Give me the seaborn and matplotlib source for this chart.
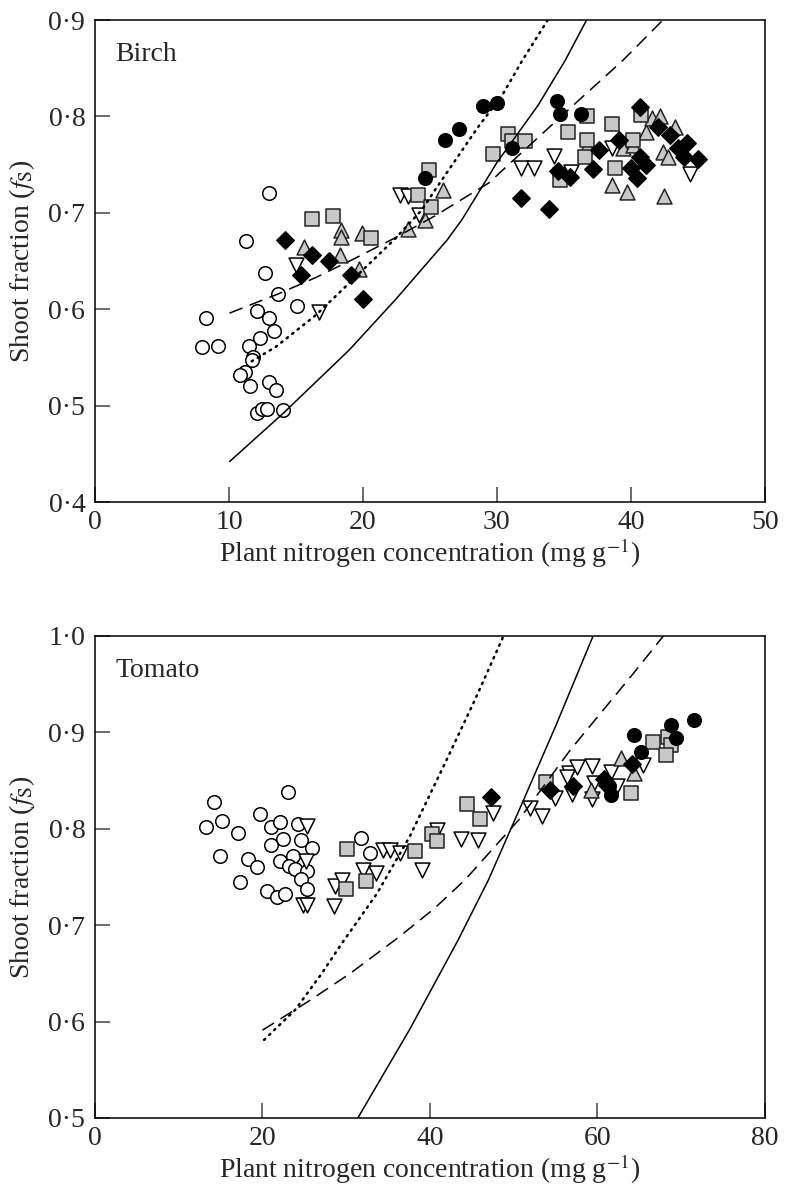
import numpy as np
import pandas as pd
import matplotlib
matplotlib.use("Agg")
import matplotlib.pyplot as plt
import seaborn as sns

# ---------------- Birch (top panel) ----------------
birch_open_circle_x = [13.0, 11.3, 12.7, 13.7, 15.1, 8.3, 12.1, 13.0, 13.4, 12.3, 8.0, 9.2, 11.5,
                       11.8, 11.7, 11.2, 10.8, 11.6, 13.0, 13.5, 12.1, 12.5, 12.85, 14.0]
birch_open_circle_y = [0.721, 0.671, 0.638, 0.616, 0.603, 0.591, 0.598, 0.591, 0.577, 0.570, 0.561, 0.562, 0.562,
                       0.550, 0.547, 0.535, 0.532, 0.520, 0.524, 0.516, 0.492, 0.496, 0.496, 0.495]

birch_black_circle_x = [24.6, 26.1, 27.2, 29.0, 30.0, 31.1, 34.5, 34.7, 36.25]
birch_black_circle_y = [0.736, 0.776, 0.787, 0.811, 0.814, 0.767, 0.816, 0.803, 0.802]

birch_square_x = [16.2, 17.8, 20.6, 24.1, 24.9, 25.1, 29.7, 30.8, 31.1, 32.1, 35.3, 36.7, 38.6,
                  36.7, 36.55, 34.7, 38.8, 40.2, 40.8]
birch_square_y = [0.694, 0.697, 0.674, 0.719, 0.744, 0.706, 0.761, 0.782, 0.774, 0.775, 0.784, 0.800, 0.792,
                  0.776, 0.758, 0.734, 0.747, 0.776, 0.801]

birch_diamond_x = [14.2, 16.2, 17.5, 15.4, 19.1, 20.0, 31.8, 33.9, 34.6, 35.45, 37.2, 37.6, 39.1,
                   40.0, 40.5, 40.7, 41.1, 40.7, 42.0, 42.9, 43.5, 44.2, 44.0, 45.0]
birch_diamond_y = [0.672, 0.656, 0.650, 0.635, 0.635, 0.611, 0.715, 0.704, 0.743, 0.737, 0.745, 0.765, 0.776,
                   0.746, 0.736, 0.758, 0.750, 0.810, 0.789, 0.781, 0.767, 0.772, 0.758, 0.756]

birch_tri_up_x = [15.6, 18.4, 18.4, 19.9, 18.3, 19.7, 23.4, 24.6, 26.0, 36.75, 38.6, 39.7, 39.4,
                  41.1, 41.6, 42.2, 43.3, 42.4, 42.8, 42.5, 40.2]
birch_tri_up_y = [0.665, 0.682, 0.675, 0.679, 0.656, 0.642, 0.683, 0.693, 0.724, 0.769, 0.729, 0.722, 0.767,
                  0.784, 0.798, 0.800, 0.789, 0.763, 0.758, 0.717, 0.770]

birch_tri_down_x = [15.0, 16.7, 22.8, 23.4, 24.2, 31.8, 32.8, 34.3, 34.75, 35.5, 38.6, 44.4]
birch_tri_down_y = [0.646, 0.597, 0.718, 0.717, 0.698, 0.746, 0.746, 0.759, 0.739, 0.742, 0.767, 0.740]

birch_solid_x = [10.05, 14.05, 19.0, 22.5, 26.3, 27.4, 30.0, 33.1, 35.1, 36.7]
birch_solid_y = [0.442, 0.492, 0.558, 0.611, 0.672, 0.693, 0.752, 0.812, 0.858, 0.900]
birch_dash_x = [10.05, 13.7, 16.5, 19.3, 22.4, 25.4, 29.4, 32.6, 35.9, 39.4, 42.4]
birch_dash_y = [0.596, 0.616, 0.633, 0.652, 0.674, 0.697, 0.731, 0.772, 0.814, 0.858, 0.900]
birch_dot_x = [11.7, 13.5, 16.5, 19.2, 22.4, 24.4, 25.4, 28.6, 30.4, 31.9, 33.8]
birch_dot_y = [0.546, 0.561, 0.594, 0.630, 0.673, 0.703, 0.724, 0.789, 0.822, 0.858, 0.900]

birch_xticks = [0, 10, 20, 30, 40, 50]
birch_yticks = [0.4, 0.5, 0.6, 0.7, 0.8, 0.9]

# ---------------- Tomato (bottom panel) ----------------
tomato_open_circle_x = [14.2, 23.1, 13.3, 15.2, 17.1, 19.7, 21.0, 22.1, 24.3, 22.5, 21.0, 24.6, 25.9, 14.9,
                        18.3, 19.3, 22.1, 23.7, 23.2, 23.9, 25.3, 24.6, 17.3, 20.6, 21.7, 22.7, 25.3, 31.8, 32.9]
tomato_open_circle_y = [0.828, 0.838, 0.802, 0.808, 0.796, 0.815, 0.802, 0.807, 0.805, 0.789, 0.783, 0.788, 0.780, 0.772,
                        0.769, 0.760, 0.767, 0.772, 0.761, 0.758, 0.756, 0.748, 0.745, 0.735, 0.729, 0.732, 0.737, 0.790, 0.775]

tomato_black_circle_x = [71.6, 68.8, 69.4, 64.4, 65.2, 61.6, 61.4]
tomato_black_circle_y = [0.913, 0.908, 0.894, 0.897, 0.880, 0.835, 0.844]

tomato_square_x = [30.1, 30.0, 32.4, 38.2, 40.2, 40.9, 44.4, 46.0, 53.9, 64.0, 66.6, 68.4, 68.8, 68.2]
tomato_square_y = [0.779, 0.738, 0.746, 0.777, 0.795, 0.787, 0.826, 0.810, 0.849, 0.837, 0.890, 0.895, 0.887, 0.877]

tomato_diamond_x = [47.3, 54.3, 57.1, 60.8, 61.2, 64.2]
tomato_diamond_y = [0.833, 0.840, 0.844, 0.852, 0.845, 0.867]

tomato_tri_up_x = [59.2, 62.8, 64.4]
tomato_tri_up_y = [0.840, 0.873, 0.858]

tomato_tri_down_x = [25.3, 25.2, 24.9, 25.3, 28.7, 29.5, 28.6, 32.0, 33.6, 34.4, 35.2, 36.4, 39.1, 40.8,
                     47.5, 43.7, 45.8, 52.0, 53.4, 55.0, 56.6, 57.6, 59.4, 56.4, 57.0, 59.4, 59.6, 61.6, 62.4, 65.4]
tomato_tri_down_y = [0.803, 0.767, 0.721, 0.721, 0.741, 0.747, 0.720, 0.757, 0.754, 0.778, 0.778, 0.775, 0.757, 0.799,
                     0.816, 0.789, 0.788, 0.822, 0.813, 0.832, 0.858, 0.864, 0.865, 0.854, 0.836, 0.831, 0.847, 0.859, 0.844, 0.866]

tomato_solid_x = [31.4, 37.6, 43.4, 47.0, 51.0, 55.0, 59.5]
tomato_solid_y = [0.500, 0.592, 0.685, 0.747, 0.826, 0.906, 1.000]
tomato_dash_x = [20.0, 25.5, 30.5, 36.2, 40.5, 44.2, 50.6, 56.8, 64.3, 67.9]
tomato_dash_y = [0.591, 0.621, 0.650, 0.687, 0.717, 0.747, 0.809, 0.882, 0.961, 1.000]
tomato_dot_x = [20.2, 23.9, 27.1, 29.4, 33.7, 37.6, 41.7, 45.4, 48.8]
tomato_dot_y = [0.581, 0.612, 0.650, 0.680, 0.733, 0.792, 0.866, 0.934, 1.000]

tomato_xticks = [0, 20, 40, 60, 80]
tomato_yticks = [0.5, 0.6, 0.7, 0.8, 0.9, 1.0]

# ---------------- style ----------------
sns.set_style("ticks")
plt.rcParams['font.family'] = ['Liberation Serif', 'DejaVu Serif']
plt.rcParams['mathtext.fontset'] = 'stix'

GRAY = '#c8c8c8'
FS = 20

fig = plt.figure(figsize=(7.87, 11.99), dpi=100)
ax1 = fig.add_axes([0.1207, 0.5813, 0.851, 0.402])
ax2 = fig.add_axes([0.1207, 0.0676, 0.851, 0.402])


def draw_group(ax, x, y, marker, face, edge, s):
    sns.scatterplot(x=x, y=y, ax=ax, marker=marker, color=face, edgecolor=edge,
                    linewidth=1.1, s=s, zorder=3, legend=False)


def draw_curves(ax, sx, sy, dx, dy, px, py):
    sns.lineplot(x=sx, y=sy, ax=ax, color='black', lw=1.1, sort=False, estimator=None, zorder=4)
    sns.lineplot(x=dx, y=dy, ax=ax, color='black', lw=1.1, sort=False, estimator=None,
                 linestyle=(0, (9, 5)), zorder=4)
    sns.lineplot(x=px, y=py, ax=ax, color='black', lw=1.8, sort=False, estimator=None,
                 linestyle=(0, (0.6, 2.2)), dash_capstyle='round', zorder=4)


def finish(ax, xticks, yticks, xlim, ylim, name):
    ax.set_xlim(*xlim)
    ax.set_ylim(*ylim)
    ax.set_xticks(xticks)
    ax.set_xticklabels([str(t) for t in xticks])
    ax.set_yticks(yticks)
    ax.set_yticklabels([f"{t:.1f}".replace('.', '·') for t in yticks])
    ax.tick_params(direction='in', length=11, width=1.1, labelsize=FS, color='#444444')
    ax.tick_params(axis='x', pad=6)
    ax.tick_params(axis='y', pad=7)
    for sp in ax.spines.values():
        sp.set_visible(True)
        sp.set_linewidth(1.1)
        sp.set_color('black')
    ax.set_xlabel("Plant nitrogen concentration (mg g$^{-1}$)", fontsize=FS, labelpad=1)
    ax.set_ylabel("Shoot fraction ($f_{\\rm S}$)", fontsize=FS, labelpad=8)
    ax.text(0.03, 0.955, name, transform=ax.transAxes, fontsize=FS, va='top', ha='left')


# top panel
draw_curves(ax1, birch_solid_x, birch_solid_y, birch_dash_x, birch_dash_y, birch_dot_x, birch_dot_y)
draw_group(ax1, birch_open_circle_x, birch_open_circle_y, 'o', 'white', 'black', 95)
draw_group(ax1, birch_tri_down_x, birch_tri_down_y, 'v', 'white', 'black', 115)
draw_group(ax1, birch_tri_up_x, birch_tri_up_y, '^', GRAY, '#222222', 115)
draw_group(ax1, birch_square_x, birch_square_y, 's', GRAY, '#222222', 95)
draw_group(ax1, birch_black_circle_x, birch_black_circle_y, 'o', 'black', 'black', 95)
draw_group(ax1, birch_diamond_x, birch_diamond_y, 'D', 'black', 'black', 78)
finish(ax1, birch_xticks, birch_yticks, (0, 50), (0.4, 0.9), "Birch")

# bottom panel
draw_curves(ax2, tomato_solid_x, tomato_solid_y, tomato_dash_x, tomato_dash_y, tomato_dot_x, tomato_dot_y)
draw_group(ax2, tomato_open_circle_x, tomato_open_circle_y, 'o', 'white', 'black', 95)
draw_group(ax2, tomato_tri_down_x, tomato_tri_down_y, 'v', 'white', 'black', 115)
draw_group(ax2, tomato_tri_up_x, tomato_tri_up_y, '^', GRAY, '#222222', 115)
draw_group(ax2, tomato_square_x, tomato_square_y, 's', GRAY, '#222222', 95)
draw_group(ax2, tomato_black_circle_x, tomato_black_circle_y, 'o', 'black', 'black', 95)
draw_group(ax2, tomato_diamond_x, tomato_diamond_y, 'D', 'black', 'black', 78)
finish(ax2, tomato_xticks, tomato_yticks, (0, 80), (0.5, 1.0), "Tomato")

fig.savefig("out.png", dpi=100)
